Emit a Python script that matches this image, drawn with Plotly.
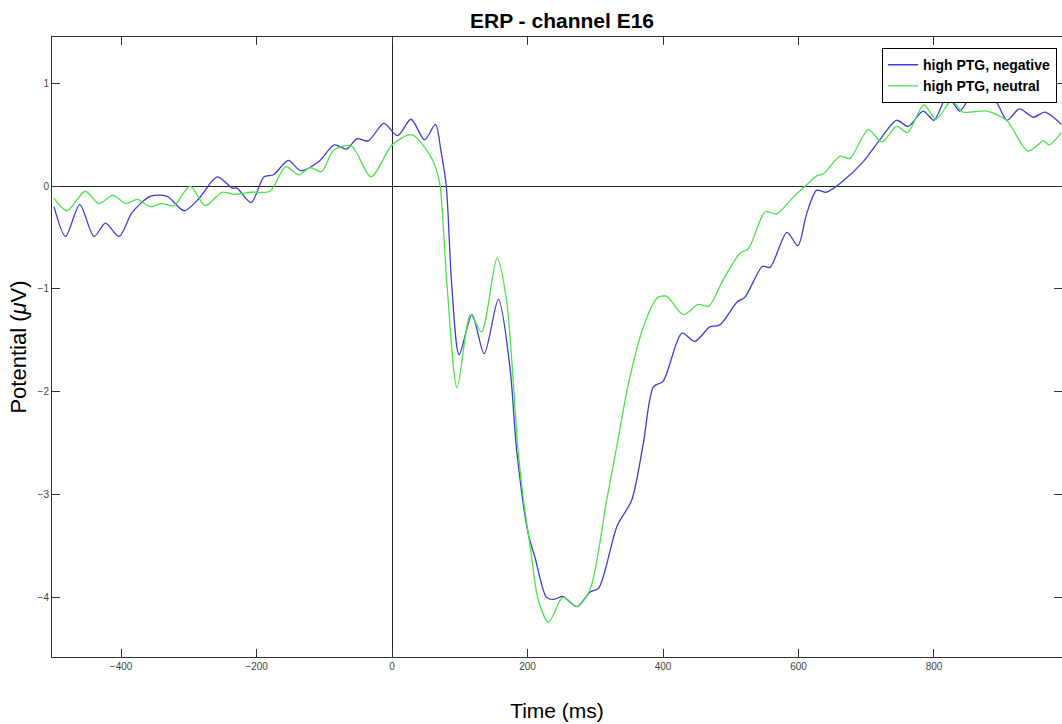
import plotly.graph_objects as go

# ---- data ----
time_neg = [-499, -482, -461, -440, -423, -403, -384, -357, -332, -307, -285, -258, -236, -229,
            -208, -189, -175, -153, -135, -108, -85, -67, -52, -35, -12, 8, 28, 48, 64, 72, 80,
            88, 99, 118, 136, 157, 174, 184, 201, 211, 228, 239, 252, 273, 292, 305, 332, 354,
            371, 386, 400, 428, 447, 469, 484, 509, 521, 547, 558, 583, 599, 612, 627, 641, 664,
            696, 720, 745, 762, 784, 800, 820, 838, 860, 880, 893, 908, 926, 947, 964, 988]
erp_neg = [-0.20, -0.49, -0.18, -0.49, -0.36, -0.49, -0.26, -0.10, -0.10, -0.24, -0.12, 0.09, -0.02, -0.02,
           -0.16, 0.09, 0.11, 0.25, 0.15, 0.24, 0.40, 0.36, 0.46, 0.44, 0.61, 0.49, 0.65, 0.45, 0.60, 0.35, 0.0,
           -0.95, -1.64, -1.25, -1.63, -1.10, -1.76, -2.57, -3.38, -3.61, -4.00, -4.02, -3.99, -4.09, -3.95, -3.91, -3.31, -3.05,
           -2.50, -1.95, -1.90, -1.43, -1.51, -1.37, -1.35, -1.13, -1.08, -0.78, -0.79, -0.45, -0.58, -0.27, -0.04, -0.06, 0.04,
           0.24, 0.45, 0.64, 0.58, 0.73, 0.64, 0.88, 0.73, 0.93, 0.89, 0.81, 0.64, 0.75, 0.67, 0.72, 0.60]

time_neu = [-499, -480, -453, -433, -412, -393, -376, -357, -340, -322, -298, -276, -251, -234,
            -207, -180, -157, -138, -121, -104, -86, -60, -31, 0, 29, 55, 65, 71, 81, 96, 116,
            132, 155, 169, 186, 194, 204, 216, 231, 248, 253, 273, 292, 317, 334, 349, 371, 391,
            405, 430, 452, 467, 489, 514, 526, 551, 568, 592, 610, 627, 637, 661, 676, 703, 723,
            745, 761, 785, 803, 826, 843, 878, 907, 939, 962, 970, 988]
erp_neu = [-0.12, -0.24, -0.05, -0.17, -0.09, -0.17, -0.13, -0.20, -0.17, -0.19, 0.0, -0.19, -0.06, -0.08,
           -0.06, -0.05, 0.19, 0.11, 0.18, 0.14, 0.35, 0.39, 0.09, 0.40, 0.50, 0.31, 0.17, 0.0, -0.95, -1.96, -1.25,
           -1.42, -0.70, -1.11, -2.57, -3.05, -3.51, -4.03, -4.24, -4.03, -4.00, -4.09, -3.93, -3.05, -2.45, -1.92, -1.37, -1.09,
           -1.07, -1.25, -1.15, -1.17, -0.91, -0.65, -0.61, -0.25, -0.27, -0.11, 0.0, 0.10, 0.12, 0.29, 0.27, 0.55, 0.43,
           0.58, 0.52, 0.79, 0.65, 0.83, 0.72, 0.73, 0.64, 0.34, 0.44, 0.40, 0.52]

x_ticks = [-400, -200, 0, 200, 400, 600, 800]
y_ticks = [-4, -3, -2, -1, 0, 1]

FONT = "Liberation Sans, Arial, sans-serif"

fig = go.Figure()
fig.add_trace(go.Scatter(x=time_neg, y=erp_neg, mode="lines", name="high PTG, negative",
                         line=dict(color="#3c3cd8", width=1.3, shape="spline", smoothing=0.8)))
fig.add_trace(go.Scatter(x=time_neu, y=erp_neu, mode="lines", name="high PTG, neutral",
                         line=dict(color="#48e448", width=1.3, shape="spline", smoothing=0.8)))

axis_common = dict(showline=True, linecolor="#333333", linewidth=1, mirror="ticks",
                   ticks="inside", ticklen=8, tickcolor="#333333", showgrid=False,
                   zeroline=True, zerolinecolor="#222222", zerolinewidth=1.2,
                   tickfont=dict(family=FONT, size=10, color="#444444"))

W, H = 1062, 724
fig.update_layout(
    width=W, height=H,
    margin=dict(l=52, r=0, t=37, b=67),
    paper_bgcolor="white", plot_bgcolor="white",
    title=dict(text="<b>ERP - channel E16</b>", x=562 / W, xanchor="center",
               y=1 - 21 / H, yanchor="middle",
               font=dict(family=FONT, size=21, color="black")),
    xaxis=dict(range=[-502, 989], tickvals=x_ticks, **axis_common,
               title=dict(text="Time (ms)", font=dict(family=FONT, size=21, color="black"), standoff=32)),
    yaxis=dict(range=[-4.58, 1.45], tickvals=y_ticks, **axis_common,
               title=dict(text="Potential (<i>μ</i>V)", font=dict(family=FONT, size=22, color="black"), standoff=4)),
    legend=dict(x=0.995, xanchor="right", y=0.982, yanchor="top",
                bgcolor="white", bordercolor="black", borderwidth=1,
                font=dict(family=FONT, size=14, color="black", weight="bold"),
                tracegroupgap=0, itemwidth=30),
    showlegend=True,
)

fig.write_html("out.html", config={"displayModeBar": False},
               post_script="document.body.style.margin='0';document.body.style.overflow='hidden';")
